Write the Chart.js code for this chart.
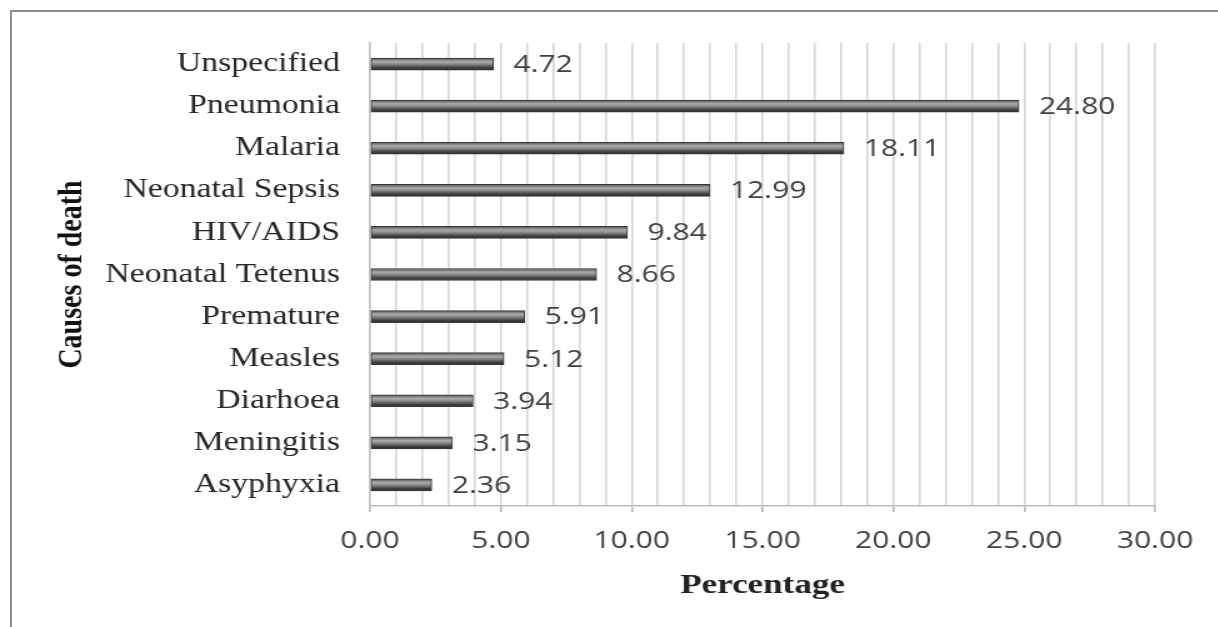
<!DOCTYPE html>
<html>
<head>
<meta charset="utf-8">
<script src="https://cdn.jsdelivr.net/npm/chart.js@4.4.1/dist/chart.umd.min.js"></script>
<style>
  html, body { margin: 0; padding: 0; background: #fff; overflow: hidden; }
  #frame {
    position: absolute; left: 10px; top: 10px; width: 1230px; height: 640px;
    border-left: 2px solid #8c8c8c; border-top: 2px solid #8c8c8c;
  }
  /* the source picture is stretched sideways, so the chart is too */
  #wrap {
    position: absolute; left: 0; top: 0; width: 975px; height: 627px;
    transform: scaleX(1.25); transform-origin: 0 0;
  }
</style>
</head>
<body>
<div id="frame"></div>
<div id="wrap"><canvas id="causesChart" width="975" height="627"></canvas></div>
<script>
// causes of death, top to bottom as in the figure
const causes = ['Unspecified', 'Pneumonia', 'Malaria', 'Neonatal Sepsis', 'HIV/AIDS',
  'Neonatal Tetenus', 'Premature', 'Measles', 'Diarhoea', 'Meningitis', 'Asyphyxia'];
const percentages = [4.72, 24.80, 18.11, 12.99, 9.84, 8.66, 5.91, 5.12, 3.94, 3.15, 2.36];
const xMin = 0;
const xMax = 30;
const gridStep = 1;
const labelStep = 5;

const serif = '"Liberation Serif", "Times New Roman", serif';
const sans = '"Open Sans", "Liberation Sans", sans-serif';

// shade each bar like a small cylinder (options are shared, so give each bar its own copy)
const cylinderBars = {
  id: 'cylinderBars',
  beforeDatasetsDraw(chart) {
    const ctx = chart.ctx;
    chart.getDatasetMeta(0).data.forEach(bar => {
      const top = bar.y - bar.height / 2;
      const g = ctx.createLinearGradient(0, top, 0, top + bar.height);
      g.addColorStop(0, '#505050');
      g.addColorStop(0.3, '#ababab');
      g.addColorStop(0.5, '#8c8c8c');
      g.addColorStop(0.8, '#404040');
      g.addColorStop(1, '#2e2e2e');
      bar.options = Object.assign({}, bar.options, { backgroundColor: g });
    });
  }
};

// value written at the end of each bar
const valueLabels = {
  id: 'valueLabels',
  afterDatasetsDraw(chart) {
    const ctx = chart.ctx;
    ctx.save();
    ctx.font = '24px ' + sans;
    ctx.fillStyle = '#404040';
    ctx.textAlign = 'left';
    ctx.textBaseline = 'middle';
    chart.getDatasetMeta(0).data.forEach((bar, i) => {
      ctx.fillText(percentages[i].toFixed(2), bar.x + 16, bar.y + 1);
    });
    ctx.restore();
  }
};

new Chart(document.getElementById('causesChart'), {
  type: 'bar',
  data: {
    labels: causes,
    datasets: [{
      data: percentages,
      backgroundColor: '#777',
      borderColor: '#383838',
      borderWidth: 1,
      borderSkipped: false,
      barThickness: 12
    }]
  },
  options: {
    indexAxis: 'y',
    responsive: false,
    animation: false,
    devicePixelRatio: 1,
    layout: { padding: { top: 43, right: 51, bottom: 0, left: 0 } },
    plugins: { legend: { display: false }, tooltip: { enabled: false } },
    scales: {
      x: {
        min: xMin,
        max: xMax,
        afterFit: s => { s.height = 121; },
        ticks: {
          stepSize: gridStep,
          autoSkip: false,
          maxRotation: 0,
          padding: 15,
          color: '#404040',
          font: { family: sans, size: 24 },
          callback: v => (v % labelStep === 0 ? v.toFixed(2) : '')
        },
        grid: {
          color: '#d6d6d6',
          lineWidth: 1.6,
          tickLength: 6,
          tickColor: c => (c.tick && c.tick.value % labelStep === 0 ? '#b8b8b8' : 'rgba(0,0,0,0)')
        },
        border: { color: '#bdbdbd', width: 1.6 },
        title: {
          display: true,
          text: 'Percentage',
          color: '#222',
          font: { family: serif, size: 28, weight: 'bold' },
          padding: { top: 0, bottom: 24 }
        }
      },
      y: {
        afterFit: s => { s.width = 296; },
        grid: { display: false, drawTicks: false },
        border: { color: '#c4c4c4', width: 1.6 },
        ticks: {
          padding: 24,
          color: '#262626',
          font: { family: serif, size: 27 }
        },
        title: {
          display: true,
          text: 'Causes of death',
          color: '#111',
          font: { family: serif, size: 28, weight: 'bold' },
          padding: { top: 41, bottom: 0 }
        }
      }
    }
  },
  plugins: [cylinderBars, valueLabels]
});
</script>
</body>
</html>
